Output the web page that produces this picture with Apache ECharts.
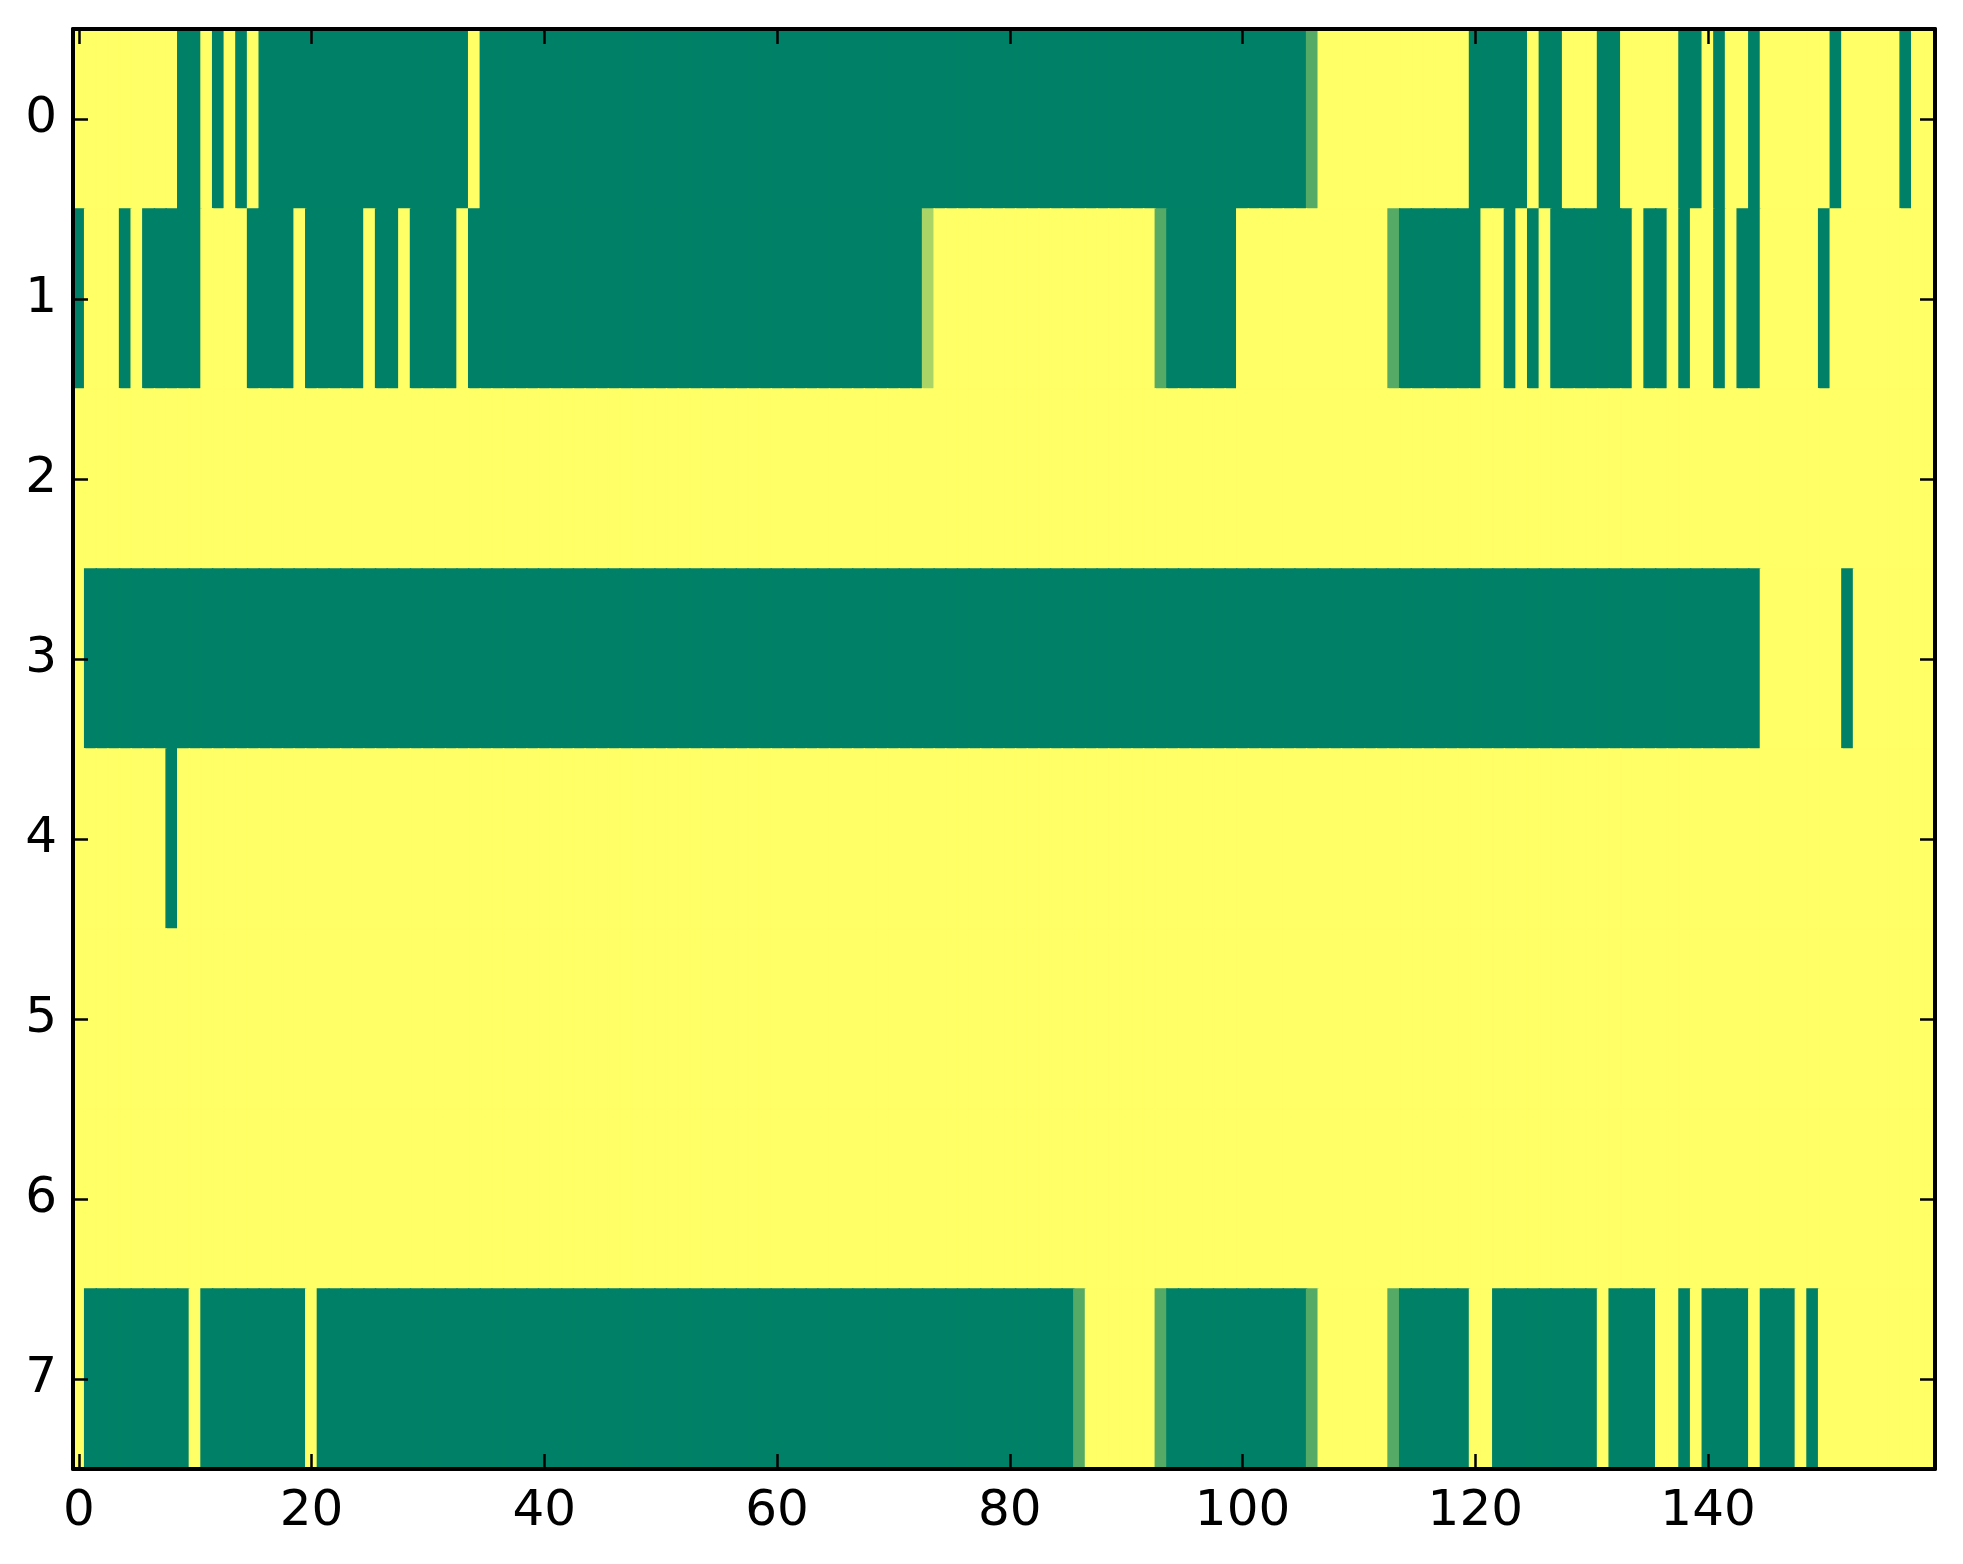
<!DOCTYPE html>
<html>
<head>
<meta charset="utf-8">
<script src="https://cdn.jsdelivr.net/npm/echarts@6/dist/echarts.min.js"></script>
<style>
html,body{margin:0;padding:0;background:#fff;}
#chart{width:1963px;height:1564px;}
</style>
</head>
<body>
<div id="chart"></div>
<script>
// column indices 0..159 and row labels 0..7
var columns = [];
for (var i = 0; i < 160; i++) columns.push(String(i));
var rowLabels = ['0','1','2','3','4','5','6','7'];
var xTickLabels = ['0','20','40','60','80','100','120','140'];

// cell values per row (1 = yellow, 0 = green, fractions = intermediate)
var row0 = [1,1,1,1,1,1,1,1,1,0, 0,1,0,1,0,1,0,0,0,0, 0,0,0,0,0,0,0,0,0,0, 0,0,0,0,1,0,0,0,0,0,
            0,0,0,0,0,0,0,0,0,0, 0,0,0,0,0,0,0,0,0,0, 0,0,0,0,0,0,0,0,0,0, 0,0,0,0,0,0,0,0,0,0,
            0,0,0,0,0,0,0,0,0,0, 0,0,0,0,0,0,0,0,0,0, 0,0,0,0,0,0,0.333,1,1,1, 1,1,1,1,1,1,1,1,1,1,
            0,0,0,0,0,1,0,0,1,1, 1,0,0,1,1,1,1,1,0,0, 1,0,1,1,0,1,1,1,1,1, 1,0,1,1,1,1,1,0,1,1];
var row1 = [0,1,1,1,0,1,0,0,0,0, 0,1,1,1,1,0,0,0,0,1, 0,0,0,0,0,1,0,0,1,0, 0,0,0,1,0,0,0,0,0,0,
            0,0,0,0,0,0,0,0,0,0, 0,0,0,0,0,0,0,0,0,0, 0,0,0,0,0,0,0,0,0,0, 0,0,0,0.667,1,1,1,1,1,1,
            1,1,1,1,1,1,1,1,1,1, 1,1,1,0.333,0,0,0,0,0,0, 1,1,1,1,1,1,1,1,1,1, 1,1,1,0.333,0,0,0,0,0,0,
            0,1,1,0,1,0,1,0,0,0, 0,0,0,0,1,0,0,1,0,1, 1,0,1,0,0,1,1,1,1,1, 0,1,1,1,1,1,1,1,1,1];
var row2 = [1,1,1,1,1,1,1,1,1,1, 1,1,1,1,1,1,1,1,1,1, 1,1,1,1,1,1,1,1,1,1, 1,1,1,1,1,1,1,1,1,1,
            1,1,1,1,1,1,1,1,1,1, 1,1,1,1,1,1,1,1,1,1, 1,1,1,1,1,1,1,1,1,1, 1,1,1,1,1,1,1,1,1,1,
            1,1,1,1,1,1,1,1,1,1, 1,1,1,1,1,1,1,1,1,1, 1,1,1,1,1,1,1,1,1,1, 1,1,1,1,1,1,1,1,1,1,
            1,1,1,1,1,1,1,1,1,1, 1,1,1,1,1,1,1,1,1,1, 1,1,1,1,1,1,1,1,1,1, 1,1,1,1,1,1,1,1,1,1];
var row3 = [1,0,0,0,0,0,0,0,0,0, 0,0,0,0,0,0,0,0,0,0, 0,0,0,0,0,0,0,0,0,0, 0,0,0,0,0,0,0,0,0,0,
            0,0,0,0,0,0,0,0,0,0, 0,0,0,0,0,0,0,0,0,0, 0,0,0,0,0,0,0,0,0,0, 0,0,0,0,0,0,0,0,0,0,
            0,0,0,0,0,0,0,0,0,0, 0,0,0,0,0,0,0,0,0,0, 0,0,0,0,0,0,0,0,0,0, 0,0,0,0,0,0,0,0,0,0,
            0,0,0,0,0,0,0,0,0,0, 0,0,0,0,0,0,0,0,0,0, 0,0,0,0,0,1,1,1,1,1, 1,1,0,1,1,1,1,1,1,1];
var row4 = [1,1,1,1,1,1,1,1,0,1, 1,1,1,1,1,1,1,1,1,1, 1,1,1,1,1,1,1,1,1,1, 1,1,1,1,1,1,1,1,1,1,
            1,1,1,1,1,1,1,1,1,1, 1,1,1,1,1,1,1,1,1,1, 1,1,1,1,1,1,1,1,1,1, 1,1,1,1,1,1,1,1,1,1,
            1,1,1,1,1,1,1,1,1,1, 1,1,1,1,1,1,1,1,1,1, 1,1,1,1,1,1,1,1,1,1, 1,1,1,1,1,1,1,1,1,1,
            1,1,1,1,1,1,1,1,1,1, 1,1,1,1,1,1,1,1,1,1, 1,1,1,1,1,1,1,1,1,1, 1,1,1,1,1,1,1,1,1,1];
var row5 = [1,1,1,1,1,1,1,1,1,1, 1,1,1,1,1,1,1,1,1,1, 1,1,1,1,1,1,1,1,1,1, 1,1,1,1,1,1,1,1,1,1,
            1,1,1,1,1,1,1,1,1,1, 1,1,1,1,1,1,1,1,1,1, 1,1,1,1,1,1,1,1,1,1, 1,1,1,1,1,1,1,1,1,1,
            1,1,1,1,1,1,1,1,1,1, 1,1,1,1,1,1,1,1,1,1, 1,1,1,1,1,1,1,1,1,1, 1,1,1,1,1,1,1,1,1,1,
            1,1,1,1,1,1,1,1,1,1, 1,1,1,1,1,1,1,1,1,1, 1,1,1,1,1,1,1,1,1,1, 1,1,1,1,1,1,1,1,1,1];
var row6 = [1,1,1,1,1,1,1,1,1,1, 1,1,1,1,1,1,1,1,1,1, 1,1,1,1,1,1,1,1,1,1, 1,1,1,1,1,1,1,1,1,1,
            1,1,1,1,1,1,1,1,1,1, 1,1,1,1,1,1,1,1,1,1, 1,1,1,1,1,1,1,1,1,1, 1,1,1,1,1,1,1,1,1,1,
            1,1,1,1,1,1,1,1,1,1, 1,1,1,1,1,1,1,1,1,1, 1,1,1,1,1,1,1,1,1,1, 1,1,1,1,1,1,1,1,1,1,
            1,1,1,1,1,1,1,1,1,1, 1,1,1,1,1,1,1,1,1,1, 1,1,1,1,1,1,1,1,1,1, 1,1,1,1,1,1,1,1,1,1];
var row7 = [1,0,0,0,0,0,0,0,0,0, 1,0,0,0,0,0,0,0,0,0, 1,0,0,0,0,0,0,0,0,0, 0,0,0,0,0,0,0,0,0,0,
            0,0,0,0,0,0,0,0,0,0, 0,0,0,0,0,0,0,0,0,0, 0,0,0,0,0,0,0,0,0,0, 0,0,0,0,0,0,0,0,0,0,
            0,0,0,0,0,0,0.333,1,1,1, 1,1,1,0.333,0,0,0,0,0,0, 0,0,0,0,0,0,0.333,1,1,1, 1,1,1,0.333,0,0,0,0,0,0,
            1,1,0,0,0,0,0,0,0,0, 0,1,0,0,0,0,1,1,0,1, 0,0,0,0,1,0,0,0,1,0, 1,1,1,1,1,1,1,1,1,1];
var rows = [row0, row1, row2, row3, row4, row5, row6, row7];

var cells = [];
rows.forEach(function (r, y) {
  r.forEach(function (v, x) { cells.push([x, y, v]); });
});

function isTickLabel(idx) { return xTickLabels.indexOf(String(idx)) >= 0; }

var font = 'DejaVu Sans';
var tickStyle = { show: true, inside: true, length: 15, lineStyle: { color: '#000', width: 2.5 } };
var lineStyle = { show: true, onZero: false, lineStyle: { color: '#000', width: 4 } };

function renderCell(params, api) {
  var c = api.coord([api.value(0), api.value(1)]);
  var s = api.size([1, 1]);
  var color = api.visual('color');
  return {
    type: 'rect',
    shape: { x: c[0] - s[0] / 2, y: c[1] - s[1] / 2, width: s[0], height: s[1] },
    style: { fill: color, stroke: color, lineWidth: 1.4 },
    silent: true
  };
}

var chart = echarts.init(document.getElementById('chart'), null, { renderer: 'canvas' });
chart.setOption({
  animation: false,
  backgroundColor: '#ffffff',
  grid: { left: 73, top: 29, width: 1862, height: 1440, containLabel: false },
  xAxis: [{
    type: 'category', data: columns, position: 'bottom', boundaryGap: true,
    axisLine: lineStyle,
    axisTick: Object.assign({}, tickStyle, { alignWithLabel: true, interval: function (i) { return isTickLabel(i); } }),
    axisLabel: { show: true, interval: function (i) { return isTickLabel(i); }, color: '#000', fontFamily: font, fontSize: 50, margin: 18 },
    splitLine: { show: false }, z: 10
  }, {
    type: 'category', data: columns, position: 'top', boundaryGap: true,
    axisLine: lineStyle,
    axisTick: Object.assign({}, tickStyle, { alignWithLabel: true, interval: function (i) { return isTickLabel(i); } }),
    axisLabel: { show: false }, splitLine: { show: false }, z: 10
  }],
  yAxis: [{
    type: 'category', data: rowLabels, inverse: true, position: 'left', boundaryGap: true,
    axisLine: lineStyle,
    axisTick: Object.assign({}, tickStyle, { alignWithLabel: true }),
    axisLabel: { show: true, color: '#000', fontFamily: font, fontSize: 50, margin: 16 },
    splitLine: { show: false }, z: 10
  }, {
    type: 'category', data: rowLabels, inverse: true, position: 'right', boundaryGap: true,
    axisLine: lineStyle,
    axisTick: Object.assign({}, tickStyle, { alignWithLabel: true }),
    axisLabel: { show: false }, splitLine: { show: false }, z: 10
  }],
  visualMap: {
    show: false, type: 'continuous', min: 0, max: 1, dimension: 2, seriesIndex: 0,
    inRange: { color: ['#008066', '#ffff66'] }
  },
  series: [{
    type: 'custom', xAxisIndex: 0, yAxisIndex: 0, data: cells,
    renderItem: renderCell, clip: true, z: 2,
    encode: { x: 0, y: 1 }
  }]
});
</script>
</body>
</html>
